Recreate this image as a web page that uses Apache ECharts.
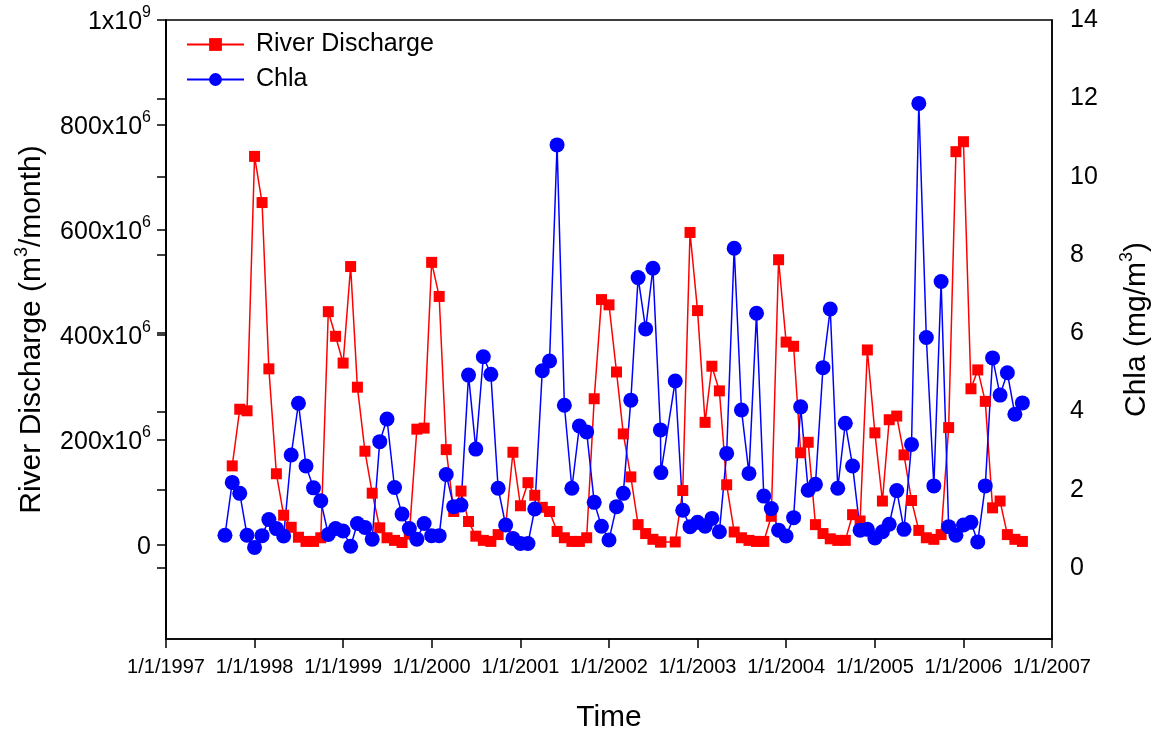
<!DOCTYPE html>
<html>
<head>
<meta charset="utf-8">
<script src="https://cdn.jsdelivr.net/npm/echarts@6/dist/echarts.min.js"></script>
<style>
html, body { margin: 0; padding: 0; background: #fff; }
#chart { width: 1155px; height: 736px; }
</style>
</head>
<body>
<div id="chart"></div>
<script>
// sampling dates (one per month, Aug 2002 was sampled twice)
const sampleDates = [
  '1997-09-01', '1997-10-01', '1997-11-01', '1997-12-01',
  '1998-01-01', '1998-02-01', '1998-03-01', '1998-04-01', '1998-05-01', '1998-06-01',
  '1998-07-01', '1998-08-01', '1998-09-01', '1998-10-01', '1998-11-01', '1998-12-01',
  '1999-01-01', '1999-02-01', '1999-03-01', '1999-04-01', '1999-05-01', '1999-06-01',
  '1999-07-01', '1999-08-01', '1999-09-01', '1999-10-01', '1999-11-01', '1999-12-01',
  '2000-01-01', '2000-02-01', '2000-03-01', '2000-04-01', '2000-05-01', '2000-06-01',
  '2000-07-01', '2000-08-01', '2000-09-01', '2000-10-01', '2000-11-01', '2000-12-01',
  '2001-01-01', '2001-02-01', '2001-03-01', '2001-04-01', '2001-05-01', '2001-06-01',
  '2001-07-01', '2001-08-01', '2001-09-01', '2001-10-01', '2001-11-01', '2001-12-01',
  '2002-01-01', '2002-02-01', '2002-03-01', '2002-04-01', '2002-05-01', '2002-06-01',
  '2002-07-01', '2002-08-01', '2002-08-03', '2002-10-01', '2002-11-01', '2002-12-01',
  '2003-01-01', '2003-02-01', '2003-03-01', '2003-04-01', '2003-05-01', '2003-06-01',
  '2003-07-01', '2003-08-01', '2003-09-01', '2003-10-01', '2003-11-01', '2003-12-01',
  '2004-01-01', '2004-02-01', '2004-03-01', '2004-04-01', '2004-05-01', '2004-06-01',
  '2004-07-01', '2004-08-01', '2004-09-01', '2004-10-01', '2004-11-01', '2004-12-01',
  '2005-01-01', '2005-02-01', '2005-03-01', '2005-04-01', '2005-05-01', '2005-06-01',
  '2005-07-01', '2005-08-01', '2005-09-01', '2005-10-01', '2005-11-01', '2005-12-01',
  '2006-01-01', '2006-02-01', '2006-03-01', '2006-04-01', '2006-05-01', '2006-06-01',
  '2006-07-01', '2006-08-01', '2006-09-01'
];

// river discharge, x10^6 m3/month
const discharge = [
  null, 150, 258, 255,
  740, 652, 335, 135, 56, 33, 14, 6, 6, 13, 444, 397,
  346, 530, 300, 178, 98, 32, 13, 8, 4, 20, 220, 222,
  538, 473, 181, 63, 102, 44, 16, 8, 6, 19, 35, 176,
  74, 118, 94, 71, 63, 25, 13, 6, 6, 13, 278, 467,
  457, 329, 211, 129, 38, 21, 10, 5, 5, 5, 103, 595,
  446, 233, 340, 293, 114, 24, 13, 8, 6, 6, 54, 543,
  386, 378, 175, 195, 38, 21, 11, 8, 8, 57, 45, 371,
  213, 83, 238, 245, 171, 84, 27, 13, 10, 19, 223, 749,
  768, 297, 333, 273, 70, 83, 19, 10, 6
];

// chlorophyll a, mg/m3
const chla = [
  0.84, 2.19, 1.91, 0.84,
  0.53, 0.83, 1.24, 1.01, 0.82, 2.89, 4.21, 2.61, 2.05, 1.72, 0.86, 1.01,
  0.95, 0.56, 1.14, 1.04, 0.74, 3.23, 3.81, 2.06, 1.38, 1.01, 0.74, 1.14,
  0.83, 0.83, 2.39, 1.57, 1.61, 4.93, 3.04, 5.40, 4.95, 2.04, 1.10, 0.76,
  0.63, 0.63, 1.51, 5.04, 5.29, 10.81, 4.16, 2.04, 3.63, 3.48, 1.68, 1.07,
  0.72, 1.57, 1.91, 4.29, 7.42, 6.11, 7.66, 3.53, 2.44, 4.78, 1.48, 1.06,
  1.17, 1.07, 1.27, 0.93, 2.93, 8.17, 4.04, 2.42, 6.51, 1.84, 1.52, 0.97,
  0.82, 1.29, 4.12, 1.99, 2.14, 5.12, 6.62, 2.04, 3.70, 2.61, 0.97, 0.99,
  0.77, 0.93, 1.12, 1.98, 0.99, 3.16, 11.87, 5.89, 2.10, 7.32, 1.06, 0.84,
  1.10, 1.17, 0.67, 2.10, 5.37, 4.42, 4.99, 3.93, 4.22
];

// tick labels
const dischargeTicks = [0, 200, 400, 600, 800, 1000];
const chlaTicks = [0, 2, 4, 6, 8, 10, 12, 14];
const yearTicks = ['1997-01-01', '1998-01-01', '1999-01-01', '2000-01-01', '2001-01-01', '2002-01-01',
  '2003-01-01', '2004-01-01', '2005-01-01', '2006-01-01', '2007-01-01'];

const font = "'Liberation Sans', Arial, sans-serif";
const titleRich = {
  n: { fontFamily: font, fontSize: 30, color: '#000', lineHeight: 34, verticalAlign: 'bottom' },
  s: { fontFamily: font, fontSize: 18, color: '#000', lineHeight: 18, verticalAlign: 'top' }
};
const labelRich = {
  n: { fontFamily: font, fontSize: 25, color: '#000', lineHeight: 30, verticalAlign: 'bottom' },
  s: { fontFamily: font, fontSize: 16, color: '#000', lineHeight: 16, verticalAlign: 'top' }
};
const blackLine = { show: true, onZero: false, lineStyle: { color: '#000', width: 1.5 } };
const blackTick = { color: '#000', width: 1.5 };

const myChart = echarts.init(document.getElementById('chart'));
const toTime = d => +echarts.time.parse(d);
const xTickValues = yearTicks.map(toTime);

const option = {
  animation: false,
  backgroundColor: '#fff',
  grid: {
    left: 166, right: 103, top: 20, bottom: 97,
    outerBoundsMode: 'none',
    show: true, borderColor: '#000', borderWidth: 1.5, backgroundColor: 'transparent'
  },
  legend: {
    data: ['River Discharge', 'Chla'],
    orient: 'vertical',
    left: 186,
    top: 32,
    padding: 0,
    itemWidth: 57,
    itemHeight: 16,
    itemGap: 10,
    textStyle: { fontFamily: font, fontSize: 25, color: '#000', padding: [0, 0, 0, 7] }
  },
  xAxis: {
    type: 'value',
    min: xTickValues[0],
    max: xTickValues[xTickValues.length - 1],
    name: 'Time',
    nameLocation: 'middle',
    nameGap: 64,
    nameTextStyle: { fontFamily: font, fontSize: 30, color: '#000' },
    axisLine: blackLine,
    axisTick: { show: true, inside: false, length: 9, customValues: xTickValues, lineStyle: blackTick },
    axisLabel: {
      customValues: xTickValues,
      margin: 18,
      fontFamily: font,
      fontSize: 20,
      color: '#000',
      formatter: v => {
        const d = new Date(v);
        return (d.getMonth() + 1) + '/' + d.getDate() + '/' + d.getFullYear();
      }
    },
    splitLine: { show: false }
  },
  yAxis: [
    {
      type: 'value',
      position: 'left',
      min: -180,
      max: 1000,
      name: '{n|River Discharge (m}{s|3}{n|/month)}',
      nameLocation: 'middle',
      nameRotate: 90,
      nameGap: 119,
      nameTextStyle: { rich: titleRich },
      axisLine: blackLine,
      axisTick: { show: true, inside: false, length: 9, customValues: dischargeTicks, lineStyle: blackTick },
      axisLabel: {
        customValues: dischargeTicks,
        margin: 15,
        rich: labelRich,
        formatter: v => v === 0 ? '{n|0}' : (v >= 1000 ? '{n|1x10}{s|9}' : '{n|' + v + 'x10}{s|6}')
      },
      splitLine: { show: false }
    },
    {
      type: 'value',
      position: 'right',
      min: -1.81,
      max: 14,
      name: '{n|Chla (mg/m}{s|3}{n|)}',
      nameLocation: 'middle',
      nameRotate: 90,
      nameGap: 66,
      nameTextStyle: { rich: titleRich },
      axisLine: blackLine,
      axisTick: { show: false },
      axisLabel: {
        customValues: chlaTicks,
        margin: 18,
        fontFamily: font,
        fontSize: 25,
        color: '#000'
      },
      splitLine: { show: false }
    },
    {
      // Chla ticks repeated on the left axis line
      type: 'value',
      position: 'left',
      min: -1.81,
      max: 14,
      axisLine: blackLine,
      axisTick: { show: true, inside: false, length: 9, customValues: chlaTicks, lineStyle: blackTick },
      axisLabel: { show: false },
      splitLine: { show: false }
    }
  ],
  series: [
    {
      name: 'River Discharge',
      type: 'line',
      yAxisIndex: 0,
      data: sampleDates.map((d, i) => [toTime(d), discharge[i]]),
      symbol: 'rect',
      symbolSize: 11,
      color: '#ff0000',
      lineStyle: { color: '#ff0000', width: 1.5 },
      itemStyle: { color: '#ff0000' }
    },
    {
      name: 'Chla',
      type: 'line',
      yAxisIndex: 1,
      data: sampleDates.map((d, i) => [toTime(d), chla[i]]),
      symbol: 'circle',
      symbolSize: 15,
      color: '#0000ff',
      lineStyle: { color: '#0000ff', width: 1.5 },
      itemStyle: { color: '#0000ff' }
    }
  ]
};

myChart.setOption(option);
</script>
</body>
</html>
